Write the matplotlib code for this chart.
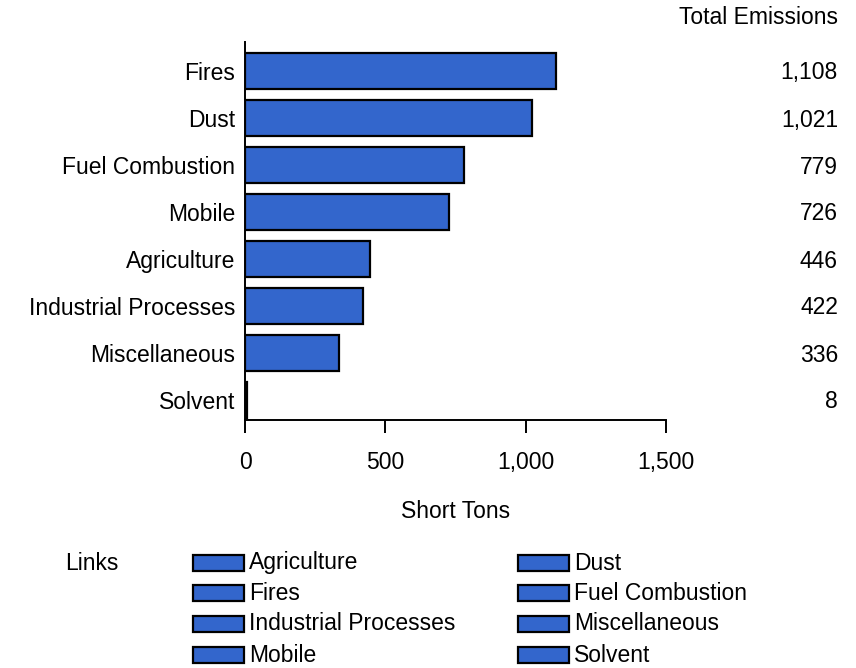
import matplotlib.pyplot as plt
from matplotlib.patches import Rectangle

plt.rcParams['font.family'] = ['Liberation Sans', 'DejaVu Sans']

# data
categories = ['Fires', 'Dust', 'Fuel Combustion', 'Mobile', 'Agriculture',
              'Industrial Processes', 'Miscellaneous', 'Solvent']
emissions = [1108, 1021, 779, 726, 446, 422, 336, 8]
xticks = [0, 500, 1000, 1500]
legend_items = ['Agriculture', 'Dust', 'Fires', 'Fuel Combustion',
                'Industrial Processes', 'Miscellaneous', 'Mobile', 'Solvent']

bar_color = '#3366CC'
fs = 16.5
W, H = 856, 668

fig = plt.figure(figsize=(W/100, H/100), dpi=100)
ax = fig.add_axes([245/W, 1-420/H, (666-245)/W, (420-42)/H])

ypos = list(range(len(categories)))
ax.barh(ypos, emissions, height=0.77, color=bar_color, edgecolor='black', linewidth=1.6)
ax.set_ylim(7.43, -0.62)
ax.set_xlim(0, 1500)
ax.set_yticks(ypos)
ax.set_yticklabels(categories, fontsize=fs)
ax.set_xticks(xticks)
ax.set_xticklabels(['{:,}'.format(t) for t in xticks], fontsize=fs)
ax.tick_params(axis='y', length=0, pad=7)
ax.tick_params(axis='x', length=9, width=1.4, direction='out', pad=13)
for s in ['top', 'right']:
    ax.spines[s].set_visible(False)
ax.spines['left'].set_linewidth(1.4)
ax.spines['bottom'].set_linewidth(1.4)
ax.set_xlabel('Short Tons', fontsize=fs, labelpad=19)

# total column on the right
fig.text(838/W, 1-18/H, 'Total Emissions', ha='right', va='center', fontsize=fs)
for i, v in enumerate(emissions):
    fig.text(838/W, 1-(73 + i*47)/H, '{:,}'.format(v), ha='right', va='center', fontsize=fs)

# legend drawn by hand
fig.text(65/W, 1-563/H, 'Links', ha='left', va='center', fontsize=fs)
col_x = [193, 518]
row_y = [563, 593, 624, 655]
for k, name in enumerate(legend_items):
    cx = col_x[k % 2]
    ry = row_y[k // 2]
    fig.patches.append(Rectangle((cx/W, 1-(ry+8)/H), 51/W, 16/H,
                                 transform=fig.transFigure, facecolor=bar_color,
                                 edgecolor='black', linewidth=1.6))
    fig.text((cx+56)/W, 1-ry/H, name, ha='left', va='center', fontsize=fs)

fig.savefig('out.png', dpi=100)
